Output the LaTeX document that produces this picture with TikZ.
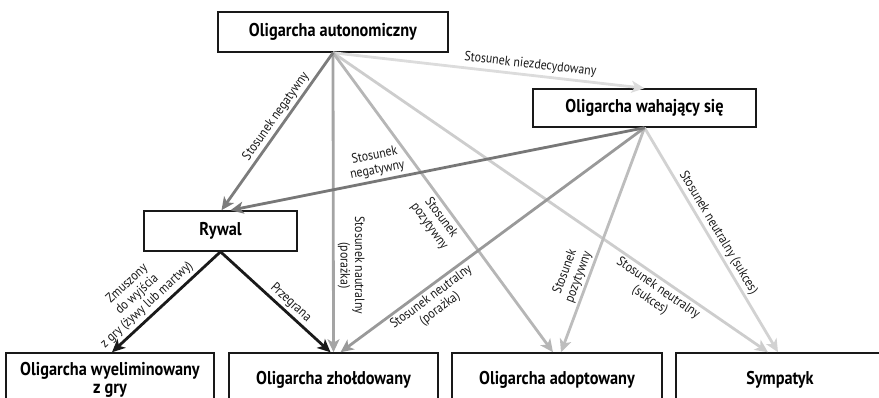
\documentclass[tikz,border=0pt]{standalone}
\usepackage{fontspec}
\setmainfont{PT Sans}[FakeStretch=0.88]
\usetikzlibrary{arrows.meta}

\definecolor{negdark}{HTML}{777777}
\definecolor{negdarkb}{HTML}{7C7C7C}
\definecolor{neutfail}{HTML}{A4A4A4}
\definecolor{neutfailb}{HTML}{999999}
\definecolor{posgray}{HTML}{B6B6B6}
\definecolor{posgrayb}{HTML}{BDBDBD}
\definecolor{neutsucc}{HTML}{CDCDCD}
\definecolor{neutsuccb}{HTML}{D2D2D2}
\definecolor{undecided}{HTML}{DCDCDC}
\definecolor{rivalline}{HTML}{1A1A1A}

\tikzset{
  actor/.style={draw=black!90, line width=1.5pt, fill=white, align=center,
    inner sep=0pt, font=\bfseries\fontsize{18.5}{18}\selectfont},
  rel/.style={line width=2.8pt,
    -{Stealth[length=13pt,width=12pt,inset=3.5pt]}},
  rellabel/.style={font=\fontsize{13.5}{14.5}\selectfont, align=center,
    inner sep=1pt, text=black!90},
}

\begin{document}
\begin{tikzpicture}[x=1pt,y=-1pt]
\useasboundingbox (0,0) rectangle (879,398);
\clip (0,0) rectangle (879,398);

% actors
\node[actor, minimum width=230pt, minimum height=40pt] (auto) at (333,32) {Oligarcha autonomiczny};
\node[actor, minimum width=223pt, minimum height=38pt] (wah) at (644.5,108) {Oligarcha wahający się};
\node[actor, minimum width=153pt, minimum height=40pt] (ryw) at (220.5,231) {Rywal};
\node[actor, minimum width=208pt, minimum height=54pt] (elim) at (110,380) {Oligarcha wyeliminowany\\z gry};
\node[actor, minimum width=209pt, minimum height=54pt] (zhol) at (333.5,380) {Oligarcha zhołdowany};
\node[actor, minimum width=210pt, minimum height=54pt] (adop) at (557,380) {Oligarcha adoptowany};
\node[actor, minimum width=208pt, minimum height=54pt] (symp) at (780,380) {Sympatyk};

% relations of the autonomous oligarch
\draw[rel, undecided] (auto.south) -- (wah.north)
  node[rellabel, pos=0.63, sloped, above=2pt] {Stosunek niezdecydowany};
\draw[rel, neutsucc] (auto.south) -- ([xshift=-12pt]symp.north)
  node[rellabel, pos=0.76, sloped, below=1pt] {Stosunek neutralny\\(sukces)};
\draw[rel, posgray] (auto.south) -- ([xshift=-4pt]adop.north)
  node[rellabel, pos=0.53, sloped, below=2pt] {Stosunek\\pozytywny};
\draw[rel, neutfail] (auto.south) -- (zhol.north)
  node[rellabel, pos=0.71, rotate=-90, above=2pt] {Stosunek nautralny\\(porażka)};
\draw[rel, negdarkb] (auto.south) -- ([xshift=1pt]ryw.north)
  node[rellabel, pos=0.44, sloped, above=1pt] {Stosunek negatywny};

% relations of the hesitating oligarch
\draw[rel, neutsuccb] (wah.south) -- ([xshift=-2pt]symp.north)
  node[rellabel, pos=0.49, sloped, above=1pt] {Stosunek neutralny (sukces)};
\draw[rel, posgrayb] (wah.south) -- ([xshift=4pt]adop.north)
  node[rellabel, pos=0.68, sloped, above=1pt] {Stosunek\\pozytywny};
\draw[rel, neutfailb] (wah.south) -- ([xshift=7pt]zhol.north)
  node[rellabel, pos=0.72, sloped, below=1pt] {Stosunek neutralny\\(porażka)};
\draw[rel, negdark] (wah.south) -- ([xshift=10pt]ryw.north)
  node[rellabel, pos=0.64, sloped, above=2pt] {Stosunek\\negatywny};

% outcomes of the rival
\draw[rel, rivalline] (ryw.south) -- ([xshift=2pt]elim.north)
  node[rellabel, pos=0.61, sloped, above=2pt] {Zmuszony\\do wyjścia\\z gry (żywy lub martwy)};
\draw[rel, rivalline] (ryw.south) -- ([xshift=-3pt]zhol.north)
  node[rellabel, pos=0.58, sloped, above=1pt] {Przegrana};
\end{tikzpicture}
\end{document}
